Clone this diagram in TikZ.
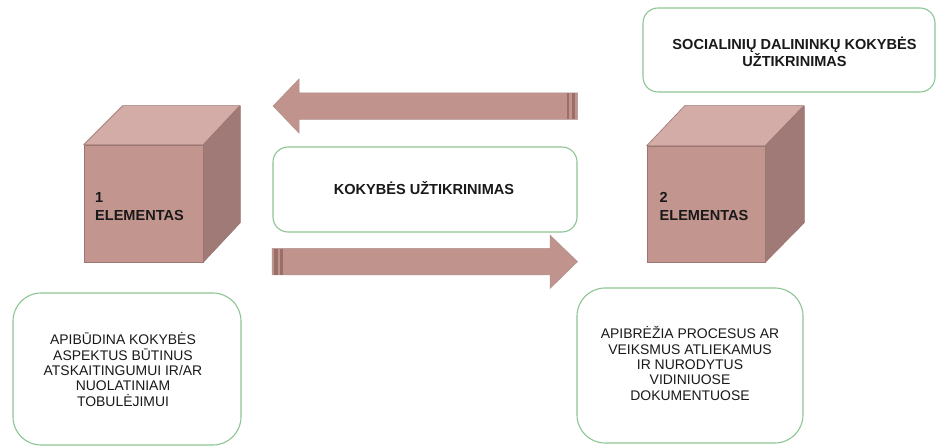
\documentclass[tikz,border=0pt]{standalone}
\usepackage{fontspec}
\setmainfont{Liberation Sans}
\definecolor{cubefront}{HTML}{C2968F}
\definecolor{cubetop}{HTML}{D3ACA7}
\definecolor{cubeside}{HTML}{A07A76}
\definecolor{cubeedge}{HTML}{9E7570}
\definecolor{arrowfill}{HTML}{C0938C}
\definecolor{arrowdark}{HTML}{9A6F6A}
\definecolor{boxgreen}{HTML}{8DC592}
\begin{document}
\begin{tikzpicture}[x=1bp,y=-1bp,
  box/.style={draw=boxgreen, line width=1.1bp, rounded corners=#1, fill=white,
    align=center, inner sep=0pt},
  boldtxt/.style={font=\fontsize{14.6}{17.5}\selectfont\bfseries, text=black!90},
  regtxt/.style={font=\fontsize{14}{15.5}\selectfont, text=black!90},
  cubefacefront/.style={fill=cubefront, draw=cubeedge, line width=0.6bp, inner sep=0pt},
  cubefacetop/.style={fill=cubetop, draw=cubeedge, line width=0.6bp, line join=round},
  cubefaceside/.style={fill=cubeside, draw=cubeedge, line width=0.6bp, line join=round},
  bigarrow/.style={fill=arrowfill, draw=cubeedge!80, line width=0.5bp, line join=miter},
  stripe/.style={fill=arrowdark, draw=none}
]
\useasboundingbox (0,0) rectangle (937,447);

% ---- cube 1 ----
\node[cubefacefront, minimum width=119bp, minimum height=117bp] (c1) at (143.5,203.5) {};
\draw[cubefacetop] (c1.north west) -- ++(39,-39) -- ++(117,0) -- (c1.north east) -- cycle;
\draw[cubefaceside] (c1.north east) -- ++(37,-39) -- ++(0,117) -- (c1.south east) -- cycle;
\node[boldtxt, anchor=west, align=left, inner sep=0pt] (t1) at (95,206.5) {1\\ELEMENTAS};

% ---- cube 2 ----
\node[cubefacefront, minimum width=118bp, minimum height=116bp] (c2) at (706,204) {};
\draw[cubefacetop] (c2.north west) -- ++(38,-40) -- ++(119,0) -- (c2.north east) -- cycle;
\draw[cubefaceside] (c2.north east) -- ++(39,-40) -- ++(0,117) -- (c2.south east) -- cycle;
\node[boldtxt, anchor=west, align=left, inner sep=0pt] (t2) at (659.5,206.5) {2\\ELEMENTAS};

% ---- top arrow (pointing left) ----
\draw[bigarrow] (273,106) -- (299,79) -- (299,93) -- (577.5,93) -- (577.5,119.5)
  -- (299,119.5) -- (299,133) -- cycle;
\fill[stripe] (566.7,93.4) rectangle (569.3,119.1);
\fill[stripe] (571.7,93.4) rectangle (575,119.1);

% ---- bottom arrow (pointing right) ----
\draw[bigarrow] (272,248.3) -- (550,248.3) -- (550,235) -- (577.5,261.7) -- (550,288.5)
  -- (550,275) -- (272,275) -- cycle;
\fill[stripe] (274.3,248.7) rectangle (277.7,274.6);
\fill[stripe] (280,248.7) rectangle (282.6,274.6);

% ---- text boxes ----
\node[box=15bp, minimum width=304bp, minimum height=85bp] (mid) at (425,189.5) {};
\node[boldtxt] (midt) at (424,188.5) {KOKYBĖS UŽTIKRINIMAS};

\node[box=15bp, minimum width=292bp, minimum height=84bp] (soc) at (789,50) {};
\node[boldtxt, align=center] (soct) at (794.5,52) {SOCIALINIŲ DALININKŲ KOKYBĖS\\UŽTIKRINIMAS};

\node[box=28bp, minimum width=228bp, minimum height=152bp] (lb) at (127,369) {};
\node[regtxt, align=center] (lbt) at (123,369.5) {APIBŪDINA KOKYBĖS\\ASPEKTUS BŪTINUS\\ATSKAITINGUMUI IR/AR\\NUOLATINIAM\\TOBULĖJIMUI};

\node[box=28bp, minimum width=226bp, minimum height=155bp] (rb) at (690,365.5) {};
\node[regtxt, align=center] (rbt) at (690,363.5) {APIBRĖŽIA PROCESUS AR\\VEIKSMUS ATLIEKAMUS\\IR NURODYTUS\\VIDINIUOSE\\DOKUMENTUOSE};
\end{tikzpicture}
\end{document}
